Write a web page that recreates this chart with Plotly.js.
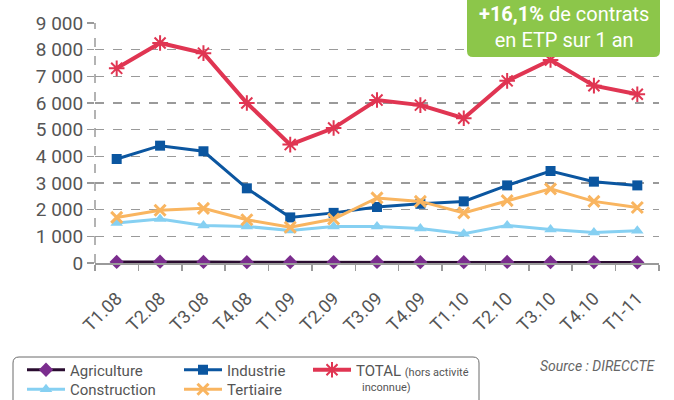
<!DOCTYPE html>
<html>
<head>
<meta charset="utf-8">
<script src="https://cdn.plot.ly/plotly-3.0.1.min.js"></script>
<style>html,body{margin:0;padding:0;background:#fff;}#chart{width:674px;height:400px;}</style>
</head>
<body>
<div id="chart"></div>
<script>
// ---- data ----
var categories = ['T1.08','T2.08','T3.08','T4.08','T1.09','T2.09','T3.09','T4.09','T1.10','T2.10','T3.10','T4.10','T1-11'];
var agriculture = [40, 50, 40, 30, 30, 30, 40, 30, 30, 40, 30, 30, 20];
var industrie = [3900, 4400, 4190, 2800, 1710, 1880, 2100, 2220, 2310, 2910, 3450, 3050, 2910];
var totalVals = [7300, 8250, 7870, 6000, 4440, 5060, 6110, 5920, 5430, 6830, 7610, 6650, 6330];
var construction = [1500, 1650, 1410, 1370, 1220, 1370, 1370, 1290, 1100, 1410, 1260, 1140, 1210];
var tertiaire = [1710, 1980, 2050, 1620, 1340, 1650, 2440, 2310, 1880, 2340, 2780, 2310, 2080];
var yTicks = [0, 1000, 2000, 3000, 4000, 5000, 6000, 7000, 8000, 9000];

var FONT = 'Roboto, "DejaVu Sans", sans-serif';

var traces = [
  {name: 'Agriculture', x: categories, y: agriculture, type: 'scatter', mode: 'lines+markers',
   line: {color: '#2a0c30', width: 3}, marker: {symbol: 'diamond', size: 11, color: '#7b2d8e'},
   legend: 'legend', legendwidth: 104, cliponaxis: false},
  {name: 'Construction', x: categories, y: construction, type: 'scatter', mode: 'lines+markers',
   line: {color: '#86d0f2', width: 3}, marker: {symbol: 'triangle-up', size: 11, color: '#86d0f2'},
   legend: 'legend2', legendwidth: 104},
  {name: 'Industrie', x: categories, y: industrie, type: 'scatter', mode: 'lines+markers',
   line: {color: '#0b56a0', width: 3}, marker: {symbol: 'square', size: 10, color: '#0b56a0'},
   legend: 'legend', legendwidth: 76},
  {name: 'Tertiaire', x: categories, y: tertiaire, type: 'scatter', mode: 'lines+markers',
   line: {color: '#f9b560', width: 3}, marker: {symbol: 'x-thin-open', size: 11, color: '#f9b560', line: {width: 3, color: '#f9b560'}},
   legend: 'legend2', legendwidth: 76},
  {name: 'TOTAL <span style="font-size:11px">(hors activité</span>', x: categories, y: totalVals, type: 'scatter', mode: 'lines+markers',
   line: {color: '#e03552', width: 4}, marker: {symbol: 'asterisk-open', size: 13, color: '#e03552', line: {width: 2, color: '#e03552'}},
   legend: 'legend', legendwidth: 120}
];

// pixel helpers for decorative shapes (paper coordinates)
var L = 95, R = 15, T = 23, B = 137, W = 674, H = 400;
var pw = W - L - R, ph = H - T - B;
function px(x) { return (x - L) / pw; }
function py(y) { return (H - B - y) / ph; }
function roundBox(x0, x1, yTop, yBot, r, roundTop, roundBottom) {
  var rx = r / pw, ry = r / ph;
  var X0 = px(x0), X1 = px(x1), YT = py(yTop), YB = py(yBot);
  var p = '';
  if (roundTop) {
    p += 'M' + X0 + ',' + (YT - ry) + ' Q' + X0 + ',' + YT + ' ' + (X0 + rx) + ',' + YT;
    p += ' L' + (X1 - rx) + ',' + YT + ' Q' + X1 + ',' + YT + ' ' + X1 + ',' + (YT - ry);
  } else {
    p += 'M' + X0 + ',' + YT + ' L' + X1 + ',' + YT;
  }
  if (roundBottom) {
    p += ' L' + X1 + ',' + (YB + ry) + ' Q' + X1 + ',' + YB + ' ' + (X1 - rx) + ',' + YB;
    p += ' L' + (X0 + rx) + ',' + YB + ' Q' + X0 + ',' + YB + ' ' + X0 + ',' + (YB + ry);
  } else {
    p += ' L' + X1 + ',' + YB + ' L' + X0 + ',' + YB;
  }
  p += ' Z';
  return p;
}

var layout = {
  width: W, height: H,
  margin: {l: L, r: R, t: T, b: B, autoexpand: false},
  paper_bgcolor: '#ffffff', plot_bgcolor: '#ffffff',
  font: {family: FONT, color: '#555555'},
  separators: ', ',
  showlegend: true,
  xaxis: {
    type: 'category', range: [-0.5, 12.5], tickson: 'boundaries',
    showgrid: false, showline: true, linecolor: '#9a9a9a', linewidth: 2,
    ticks: 'outside', ticklen: 6, tickcolor: '#9a9a9a', tickwidth: 1.5,
    ticklabelstandoff: 16,
    tickangle: -45, tickfont: {family: FONT, size: 18, color: '#555555'}, fixedrange: true
  },
  yaxis: {
    range: [0, 9000], tickvals: yTicks, tickformat: ',d',
    showgrid: true, gridcolor: '#9a9a9a', griddash: 'dash', gridwidth: 1.5,
    zeroline: false, showline: false,
    ticks: 'outside', ticklen: 7, tickcolor: '#9a9a9a', tickwidth: 1.5,
    tickfont: {family: FONT, size: 19, color: '#555555'}, fixedrange: true
  },
  legend: {
    orientation: 'h', x: px(22), xanchor: 'left', y: py(353.5), yanchor: 'top',
    bgcolor: 'rgba(0,0,0,0)', borderwidth: 0, itemwidth: 38,
    font: {family: FONT, size: 15, color: '#555555'}, itemclick: false
  },
  legend2: {
    orientation: 'h', x: px(22), xanchor: 'left', y: py(373), yanchor: 'top',
    bgcolor: 'rgba(0,0,0,0)', borderwidth: 0, itemwidth: 38,
    font: {family: FONT, size: 15, color: '#555555'}, itemclick: false
  },
  shapes: [
    {type: 'line', xref: 'paper', yref: 'paper', x0: 0, x1: 0, y0: 0, y1: 1,
     line: {color: '#9a9a9a', width: 1.5, dash: 'dash'}, layer: 'below'},
    {type: 'path', xref: 'paper', yref: 'paper', path: roundBox(13, 479, 357, 412, 6, true, false),
     line: {color: '#6a6a6a', width: 1}, fillcolor: 'rgba(0,0,0,0)', layer: 'above'},
    {type: 'path', xref: 'paper', yref: 'paper', path: roundBox(467, 660, -8, 57, 6, false, true),
     line: {width: 0}, fillcolor: '#8cc64a', layer: 'above'}
  ],
  annotations: [
    {xref: 'paper', yref: 'paper', x: px(563.5), y: py(27), xanchor: 'center', yanchor: 'middle',
     text: '<b>+16,1%</b> de contrats<br>en ETP sur 1 an', showarrow: false, align: 'center',
     font: {family: FONT, size: 20, color: '#ffffff'}},
    {xref: 'paper', yref: 'paper', x: px(360), y: py(387), xanchor: 'left', yanchor: 'middle',
     text: 'inconnue)', showarrow: false, font: {family: FONT, size: 11, color: '#555555'}},
    {xref: 'paper', yref: 'paper', x: px(658), y: py(366), xanchor: 'right', yanchor: 'middle',
     text: '<i>Source : DIRECCTE</i>', showarrow: false, font: {family: FONT, size: 14, color: '#666666'}}
  ]
};

Plotly.newPlot('chart', traces, layout, {displayModeBar: false, staticPlot: true});
</script>
</body>
</html>
